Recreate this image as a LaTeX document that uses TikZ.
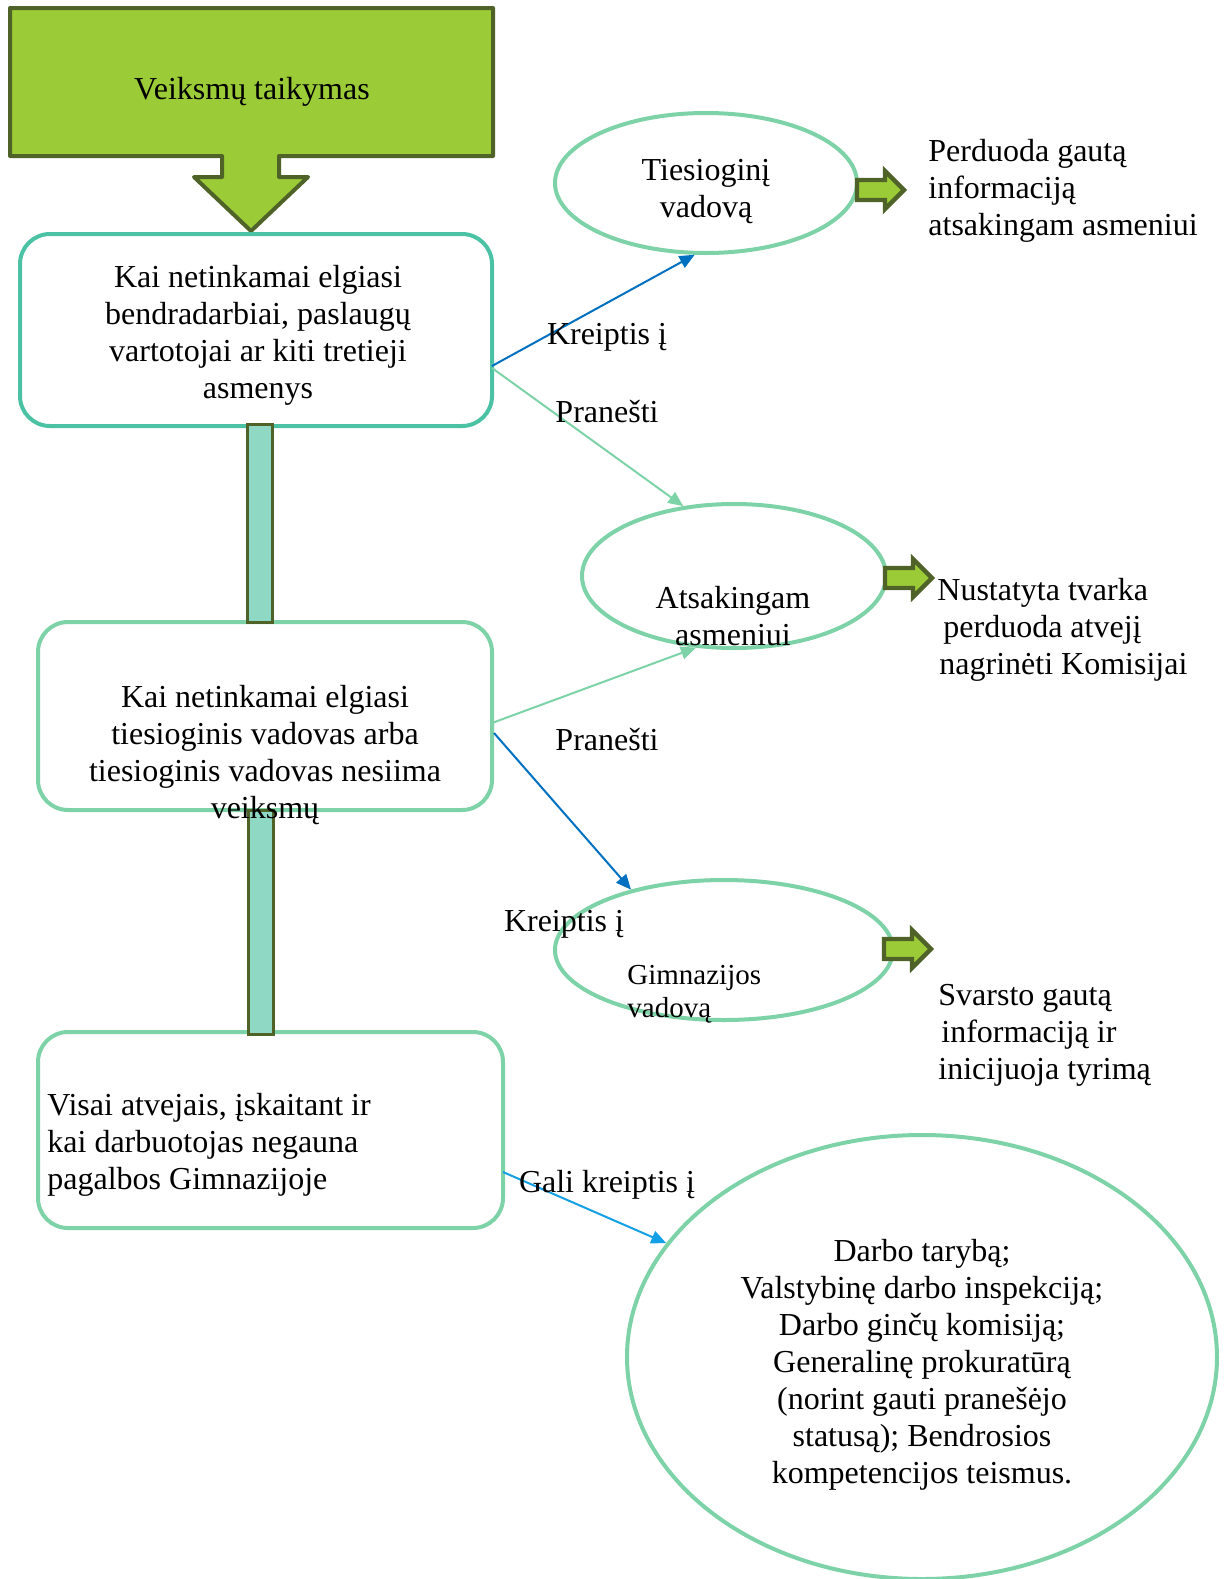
\documentclass[tikz,border=0pt]{standalone}
\usepackage{fontspec}
\setmainfont{Liberation Serif}
\usetikzlibrary{arrows.meta,shapes.geometric}
\definecolor{ygreen}{RGB}{155,204,55}
\definecolor{olivedk}{RGB}{79,98,40}
\definecolor{tealbd}{RGB}{75,194,163}
\definecolor{lgreen}{RGB}{125,211,167}
\definecolor{mint}{RGB}{143,217,196}
\definecolor{blueln}{RGB}{0,112,192}
\definecolor{lblue}{RGB}{20,160,230}
\newcommand\mainfs{\fontsize{16}{18.5}\selectfont}
\newcommand\smallfs{\fontsize{14.5}{16.5}\selectfont}
\begin{document}
\begin{tikzpicture}[x=0.5pt,y=-0.5pt,
  every node/.style={font=\mainfs, inner sep=0pt},
  txt/.style={yshift=-2pt},
  box/.style={draw, rounded corners=15pt, line width=2pt, fill=white},
  oval/.style={ellipse, draw=lgreen, line width=2pt, fill=white, inner sep=0pt},
  barbox/.style={draw=olivedk, fill=mint, line width=1.5pt},
  conn/.style={line width=1pt, -{Triangle[length=7.5pt,width=6.5pt]}},
  blockarrow/.style={draw=olivedk, fill=ygreen, line width=2.2pt, line join=miter},
  lbl/.style={font=\mainfs, txt}
]
\useasboundingbox (0,0) rectangle (1226,1579);

% top block arrow
\draw[draw=olivedk, fill=ygreen, line width=2pt, line join=round]
  (10,8) -- (493,8) -- (493,156) -- (279,156) -- (279,177) -- (308,177)
  -- (251,231) -- (194,177) -- (222,177) -- (222,156) -- (10,156) -- cycle;
\node[txt] (title) at (252,88) {Veiksmų taikymas};

% ellipses
\node[oval, minimum width=151pt, minimum height=70pt] (e1) at (706,183) {};
\node[oval, minimum width=152pt, minimum height=72pt] (e2) at (734,576) {};
\node[oval, minimum width=169pt, minimum height=70pt] (e3) at (724,950) {};
\node[oval, minimum width=295pt, minimum height=222pt] (e4) at (922,1357) {};

% boxes
\node[box, draw=tealbd, minimum width=236pt, minimum height=96pt] (b1) at (256,330) {};
\node[box, draw=lgreen, minimum width=227pt, minimum height=94pt] (b2) at (265,716) {};
\node[box, draw=lgreen, minimum width=232.5pt, minimum height=98pt] (b3) at (270.5,1130) {};

% start points on box borders
\coordinate (s1) at (492,366);
\coordinate (s2) at (492,368);
\coordinate (s3) at (492,723);
\coordinate (s4) at (494,733);
\coordinate (s5) at (503,1172);

% connectors
\draw[conn, blueln] (s1) -- (e1.261);
\draw[conn, lgreen] (s2) -- (e2.126);
\draw[conn, lgreen] (s3) -- (e2.242);
\draw[conn, blueln] (s4) -- (e3.147);
\draw[conn, lblue] (s5) -- (e4.156);

% bars
\node[barbox, minimum width=12.5pt, minimum height=99pt] (bar1) at (259.5,523) {};
\node[barbox, minimum width=12.5pt, minimum height=112pt] (bar2) at (260.5,922) {};

% box texts
\node[align=center, txt] (t1) at (258,331)
  {Kai netinkamai elgiasi\\ bendradarbiai, paslaugų\\ vartotojai ar kiti tretieji\\ asmenys};
\node[align=center, txt] (t2) at (265,751)
  {Kai netinkamai elgiasi\\ tiesioginis vadovas arba\\ tiesioginis vadovas nesiima\\ veiksmų};
\node[align=left, anchor=west, txt] (t3) at (47,1141)
  {Visai atvejais, įskaitant ir\\ kai darbuotojas negauna\\ pagalbos Gimnazijoje};

% ellipse texts
\node[align=center, txt] (te1) at (706,188) {Tiesioginį\\ vadovą};
\node[align=center, txt] (te2) at (733,612) {Atsakingam\\ asmeniui};
\node[align=left, anchor=west, font=\smallfs, txt] (te3) at (627,990) {Gimnazijos\\ vadovą};
\node[align=center, txt] (te4) at (922,1361)
  {Darbo tarybą;\\ Valstybinę darbo inspekciją;\\ Darbo ginčų komisiją;\\ Generalinę prokuratūrą\\ (norint gauti pranešėjo\\ statusą); Bendrosios\\ kompetencijos teismus.};

% block arrows
\foreach \bx/\by in {857/190, 885/578, 884/949}{
  \draw[blockarrow, shift={(\bx,\by)}]
    (0,-10) -- (28,-10) -- (28,-19) -- (47,0) -- (28,19) -- (28,10) -- (0,10) -- cycle;
}

% right texts
\node[align=left, anchor=west, txt] (r1) at (928,187)
  {Perduoda gautą\\ informaciją\\ atsakingam asmeniui};
\node[align=left, anchor=west, txt] (r2) at (937,626)
  {Nustatyta tvarka\\ \hspace{3pt}perduoda atvejį\\ \hspace{1pt}nagrinėti Komisijai};
\node[align=left, anchor=west, txt] (r3) at (938,1031)
  {Svarsto gautą\\ \hspace{1.5pt}informaciją ir\\ inicijuoja tyrimą};

% connector labels
\node[lbl] (l1) at (607,333) {Kreiptis į};
\node[lbl] (l2) at (607,408) {Pranešti};
\node[lbl] (l3) at (607,736) {Pranešti};
\node[lbl] (l4) at (564,920) {Kreiptis į};
\node[lbl] (l5) at (607,1181) {Gali kreiptis į};
\end{tikzpicture}
\end{document}
